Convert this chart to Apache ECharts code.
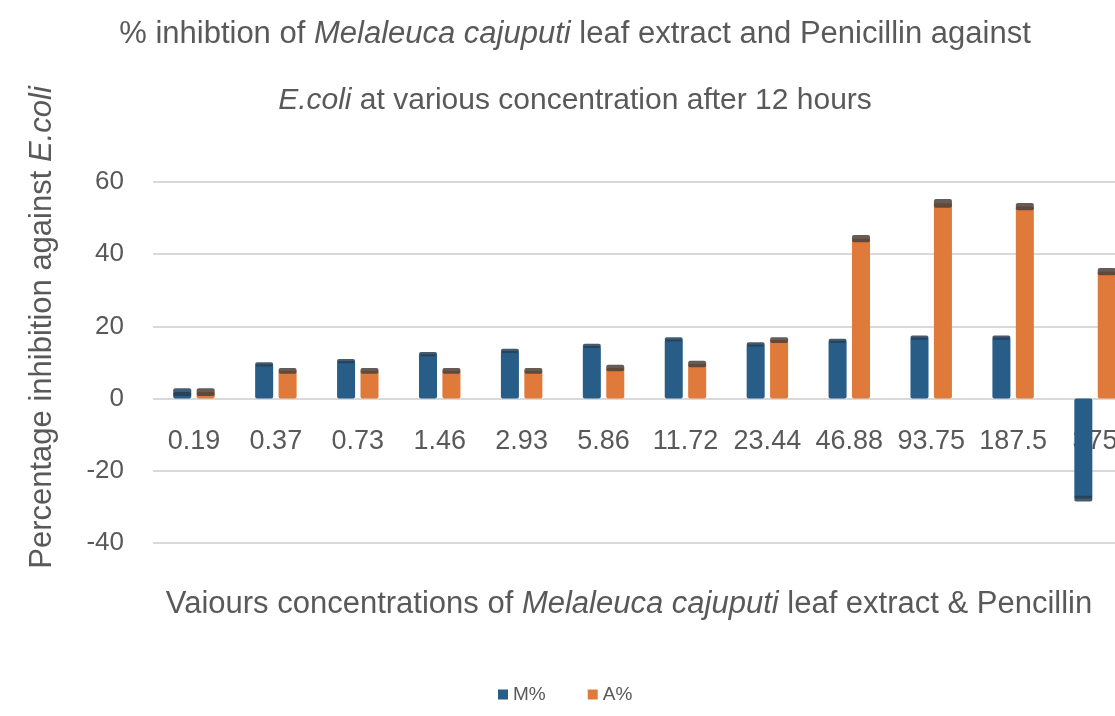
<!DOCTYPE html>
<html>
<head>
<meta charset="utf-8">
<script src="https://cdn.jsdelivr.net/npm/echarts@6/dist/echarts.min.js"></script>
<style>
  html, body { margin: 0; padding: 0; background: #fff; }
  #chart { width: 1115px; height: 716px; }
</style>
</head>
<body>
<div id="chart"></div>
<script>
// % inhibition vs concentration, bars with error bars
var categories = ['0.19', '0.37', '0.73', '1.46', '2.93', '5.86', '11.72', '23.44', '46.88', '93.75', '187.5', '375'];
var mValues = [1.8, 9.5, 10.4, 12.3, 13.2, 14.6, 16.4, 15.0, 16.0, 16.9, 16.9, -27.7];
var mErrors = [1.1, 0.6, 0.6, 0.6, 0.6, 0.6, 0.6, 0.6, 0.6, 0.6, 0.6, 0.8];
var aValues = [1.8, 7.7, 7.7, 7.7, 7.7, 8.5, 9.6, 16.2, 44.3, 54.1, 53.2, 35.2];
var aErrors = [1.1, 0.8, 0.8, 0.8, 0.8, 0.9, 0.9, 0.8, 1.0, 1.2, 1.0, 1.0];
var yTicks = { min: -40, max: 60, interval: 20 };

var textColor = '#595959';
var fontFam = '"Liberation Sans", Arial, sans-serif';
var BAR_W = 0.22, BAR_GAP = 0.3;

function errData(vals, errs) {
    var out = [];
    for (var i = 0; i < vals.length; i++) {
        out.push([i, vals[i], errs[i]]);
    }
    return out;
}

function errRender(side, color) {
    return function (params, api) {
        var idx = api.value(0), v = api.value(1), e = api.value(2);
        var cx = api.coord([idx, 0])[0];
        var band = api.size([1, 0])[0];
        var bw = band * BAR_W;
        var off = side * (bw + bw * BAR_GAP) / 2;
        var top = api.coord([idx, v + e])[1];
        var bot = api.coord([idx, v - e])[1];
        return {
            type: 'rect',
            shape: { x: cx + off - bw / 2, y: top, width: bw, height: bot - top, r: 2 },
            style: { fill: color, opacity: 0.85 }
        };
    };
}

function richSet(size) {
    return {
        n: { fontSize: size, color: textColor, fontFamily: fontFam, fontWeight: 'normal' },
        i: { fontSize: size, color: textColor, fontFamily: fontFam, fontWeight: 'normal', fontStyle: 'italic' }
    };
}

var chart = echarts.init(document.getElementById('chart'));
var option = {
    backgroundColor: '#fff',
    animation: false,
    title: [
        {
            text: '{n|% inhibtion of }{i|Melaleuca cajuputi}{n| leaf extract and Penicillin against}',
            left: 570, top: 14, textAlign: 'center',
            textStyle: { rich: richSet(31) }
        },
        {
            text: '{i|E.coli}{n| at various concentration after 12 hours}',
            left: 570, top: 81, textAlign: 'center',
            textStyle: { rich: richSet(30) }
        }
    ],
    legend: {
        bottom: 7,
        left: 493,
        itemWidth: 10,
        itemHeight: 10,
        itemGap: 42,
        icon: 'rect',
        textStyle: { fontSize: 19, color: textColor, fontFamily: fontFam },
        data: ['M%', 'A%']
    },
    grid: { left: 153, top: 182, width: 983, height: 361, outerBoundsMode: 'none' },
    xAxis: {
        type: 'category',
        data: categories,
        name: '{n|Vaiours concentrations of }{i|Melaleuca cajuputi}{n| leaf extract & Pencillin}',
        nameLocation: 'middle',
        nameGap: 46,
        nameTextStyle: { rich: richSet(31), padding: [0, 31, 0, 0] },
        axisLine: { show: false },
        axisTick: { show: false },
        // labels sit just under the zero line
        axisLabel: { interval: 0, fontSize: 27, color: textColor, fontFamily: fontFam, margin: -115 }
    },
    yAxis: {
        type: 'value',
        min: yTicks.min, max: yTicks.max, interval: yTicks.interval,
        name: '{n|Percentage inhibition against }{i|E.coli}',
        nameLocation: 'middle',
        nameGap: 95,
        nameTextStyle: { rich: richSet(31), padding: [0, 0, 0, 70] },
        axisLine: { show: false },
        axisTick: { show: false },
        axisLabel: { fontSize: 26, color: textColor, fontFamily: fontFam, margin: 29 },
        splitLine: { lineStyle: { color: '#d9d9d9', width: 2 } }
    },
    series: [
        {
            name: 'M%', type: 'bar', data: mValues,
            barWidth: (BAR_W * 100) + '%', barGap: (BAR_GAP * 100) + '%',
            itemStyle: { color: '#275d87', borderRadius: 2 }
        },
        {
            name: 'A%', type: 'bar', data: aValues,
            barWidth: (BAR_W * 100) + '%', barGap: (BAR_GAP * 100) + '%',
            itemStyle: { color: '#e07a3b', borderRadius: 2 }
        },
        {
            type: 'custom', name: 'M% err', data: errData(mValues, mErrors),
            renderItem: errRender(-1, '#243f57'), encode: { x: 0, y: 1 }, z: 3
        },
        {
            type: 'custom', name: 'A% err', data: errData(aValues, aErrors),
            renderItem: errRender(1, '#4a3f3a'), encode: { x: 0, y: 1 }, z: 3
        }
    ]
};
chart.setOption(option);
</script>
</body>
</html>
